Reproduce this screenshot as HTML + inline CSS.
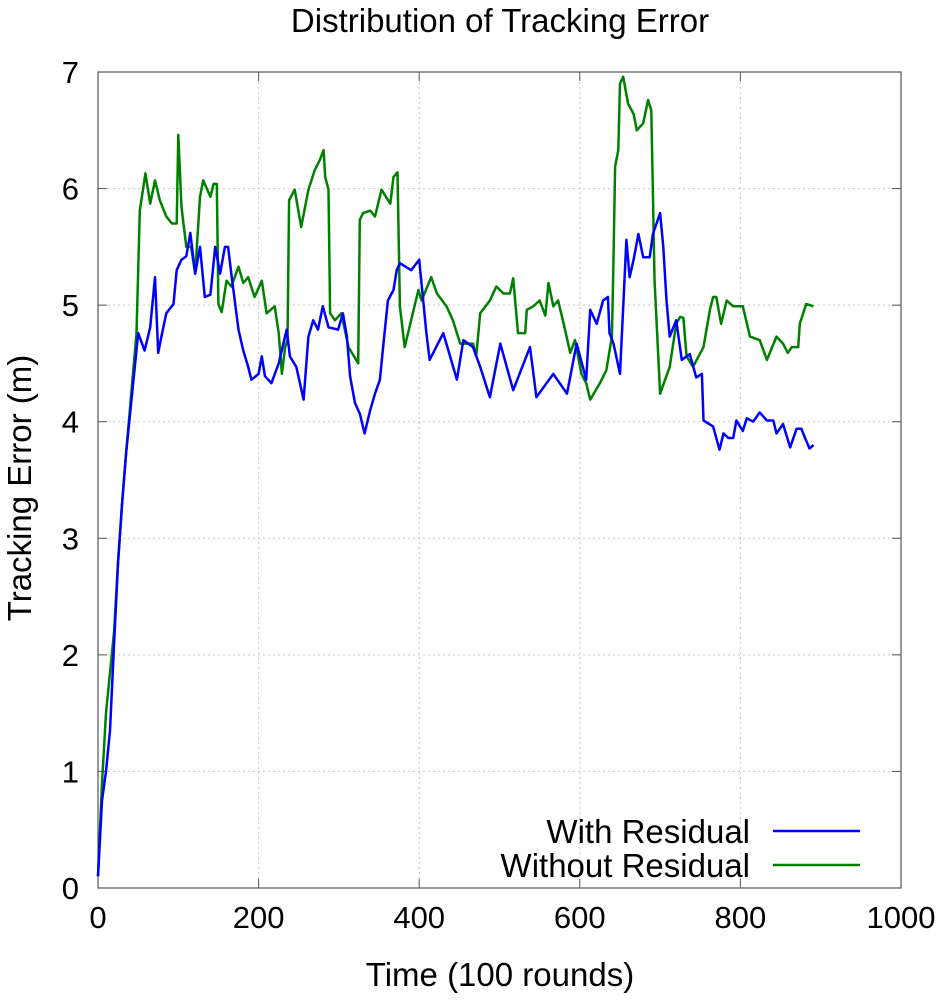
<!DOCTYPE html>
<html><head><meta charset="utf-8"><style>
body{margin:0;background:#fff}
svg{display:block;font-family:"Liberation Sans",sans-serif}
</style></head><body>
<svg id="chart" width="944" height="1000">
<text x="500" y="32" font-size="33" text-anchor="middle">Distribution of Tracking Error</text>
<g id="grid"></g><g id="axes"></g><g id="series"></g>
<text x="500" y="986" font-size="33" text-anchor="middle">Time (100 rounds)</text>
<text transform="translate(31,488) rotate(-90)" font-size="33" text-anchor="middle">Tracking Error (m)</text>
<g>
<g>
<text x="750" y="843" font-size="33" text-anchor="end">With Residual</text>
<line x1="773" y1="831" x2="860" y2="831" stroke="#0000ff" stroke-width="2.5"/></g>
<g>
<text x="750" y="877" font-size="33" text-anchor="end">Without Residual</text>
<line x1="773" y1="865" x2="860" y2="865" stroke="#008000" stroke-width="2.5"/></g>
</g>
</svg>
<script>
const xTicks=[0,200,400,600,800,1000];
const yTicks=[0,1,2,3,4,5,6,7];
const withX=[0,5,10,15,20,25,30,35,50,58,65,71,75,79,85,94,98,104,110,115,121,127,133,140,146,152,158,162,166,175,181,187,191,200,204,208,216,225,235,239,247,256,262,268,274,280,287,299,305,310,314,320,326,332,339,345,351,355,361,368,372,376,390,400,409,413,430,447,455,467,476,488,501,517,538,546,567,584,596,608,613,621,629,635,637,642,650,658,662,667,673,679,687,691,700,704,708,712,720,727,737,745,752,754,766,774,779,785,791,795,803,808,816,824,833,841,845,853,862,870,876,880,886,891];
const withY=[0.1,0.75,1.0,1.35,2.1,2.8,3.3,3.73,4.76,4.61,4.81,5.24,4.59,4.73,4.93,5.01,5.3,5.39,5.42,5.62,5.27,5.5,5.07,5.09,5.5,5.27,5.5,5.5,5.27,4.79,4.61,4.47,4.36,4.41,4.56,4.39,4.33,4.5,4.79,4.56,4.47,4.19,4.73,4.87,4.79,4.99,4.81,4.79,4.93,4.73,4.39,4.16,4.07,3.9,4.1,4.24,4.36,4.64,5.04,5.13,5.3,5.36,5.3,5.39,4.76,4.53,4.76,4.36,4.7,4.64,4.47,4.21,4.67,4.27,4.64,4.21,4.41,4.24,4.67,4.36,4.96,4.84,5.04,5.07,4.76,4.67,4.41,5.56,5.24,5.39,5.61,5.41,5.41,5.61,5.79,5.5,5.04,4.73,4.87,4.53,4.58,4.38,4.41,4.01,3.96,3.76,3.9,3.86,3.86,4.01,3.92,4.03,4.0,4.08,4.01,4.01,3.9,3.98,3.78,3.94,3.94,3.87,3.77,3.8];
const withoutX=[0,5,10,20,25,30,35,48,52,59,65,71,77,85,92,98,100,104,110,116,121,127,131,140,144,148,150,154,160,166,175,181,187,195,204,210,220,225,229,233,236,238,245,253,262,270,276,281,283,287,289,295,303,312,324,326,330,339,345,353,364,368,373,376,382,392,399,403,415,422,434,442,451,467,471,476,488,496,505,513,517,523,532,534,542,550,557,561,567,573,581,588,594,602,608,613,625,633,640,642,644,648,650,654,660,667,671,679,685,689,691,693,700,712,720,725,729,733,741,754,762,766,770,776,783,791,803,812,824,833,845,853,859,864,872,874,882,891];
const withoutY=[0.1,0.9,1.5,2.2,2.8,3.3,3.73,4.76,5.81,6.13,5.87,6.07,5.9,5.76,5.7,5.7,6.46,5.84,5.5,5.5,5.27,5.93,6.07,5.93,6.04,6.04,5.01,4.94,5.21,5.16,5.33,5.19,5.24,5.07,5.21,4.93,4.99,4.76,4.41,4.64,4.7,5.9,5.99,5.67,5.99,6.16,6.24,6.33,6.1,5.99,4.93,4.87,4.93,4.64,4.5,5.73,5.79,5.81,5.76,5.99,5.87,6.1,6.14,4.99,4.64,4.93,5.13,5.04,5.24,5.1,4.99,4.87,4.67,4.67,4.56,4.93,5.04,5.16,5.1,5.1,5.23,4.76,4.76,4.96,4.99,5.04,4.91,5.19,4.99,5.04,4.81,4.59,4.7,4.41,4.33,4.19,4.33,4.44,4.73,5.39,6.19,6.33,6.9,6.96,6.73,6.64,6.5,6.56,6.76,6.67,5.96,5.22,4.24,4.47,4.84,4.9,4.89,4.56,4.47,4.64,4.96,5.07,5.07,4.84,5.04,4.99,4.99,4.73,4.7,4.53,4.73,4.67,4.59,4.64,4.64,4.84,5.01,4.99];
const L=98,R=901,T=72,B=888;
const sx=v=>L+(v-0)/1000*(R-L);
const sy=v=>B-(v/7)*(B-T);
const NS="http://www.w3.org/2000/svg";
function mk(tag,attrs,parent){const e=document.createElementNS(NS,tag);for(const k in attrs)e.setAttribute(k,attrs[k]);parent.appendChild(e);return e;}
const grid=document.getElementById('grid'),axes=document.getElementById('axes'),ser=document.getElementById('series');
xTicks.forEach(t=>{
 const x=sx(t);
 if(t>0&&t<1000){const g=mk('line',{x1:x,x2:x,y1:T,y2:B,stroke:'#c8c8c8','stroke-dasharray':'2,3'},grid);
 
 }
 mk('line',{x1:x,x2:x,y1:B,y2:B-9,stroke:'#555'},axes);
 mk('line',{x1:x,x2:x,y1:T,y2:T+9,stroke:'#555'},axes);
 const lb=mk('text',{x:x,y:B+40,'font-size':31,'text-anchor':'middle'},axes);lb.textContent=t;
 
 
});
yTicks.forEach(t=>{
 const y=sy(t);
 if(t>0&&t<7){const g=mk('line',{x1:L,x2:R,y1:y,y2:y,stroke:'#c8c8c8','stroke-dasharray':'2,3'},grid);
 
 }
 mk('line',{x1:L,x2:L+9,y1:y,y2:y,stroke:'#555'},axes);
 mk('line',{x1:R,x2:R-9,y1:y,y2:y,stroke:'#555'},axes);
 const lb=mk('text',{x:L-19,y:y+11,'font-size':31,'text-anchor':'end'},axes);lb.textContent=t;
 
 
});
const fr=mk('rect',{x:L,y:T,width:R-L,height:B-T,fill:'none',stroke:'#555','stroke-width':1.2},axes);


function line(xs,ys,color,name){
 const d=xs.map((v,i)=>(i?'L':'M')+sx(v).toFixed(1)+','+sy(ys[i]).toFixed(1)).join('');
 const p=mk('path',{d:d,fill:'none',stroke:color,'stroke-width':2.5,'stroke-linejoin':'round'},ser);
 
 
}
line(withoutX,withoutY,'#008000','without-residual-line');
line(withX,withY,'#0000ff','with-residual-line');
</script>
</body></html>
